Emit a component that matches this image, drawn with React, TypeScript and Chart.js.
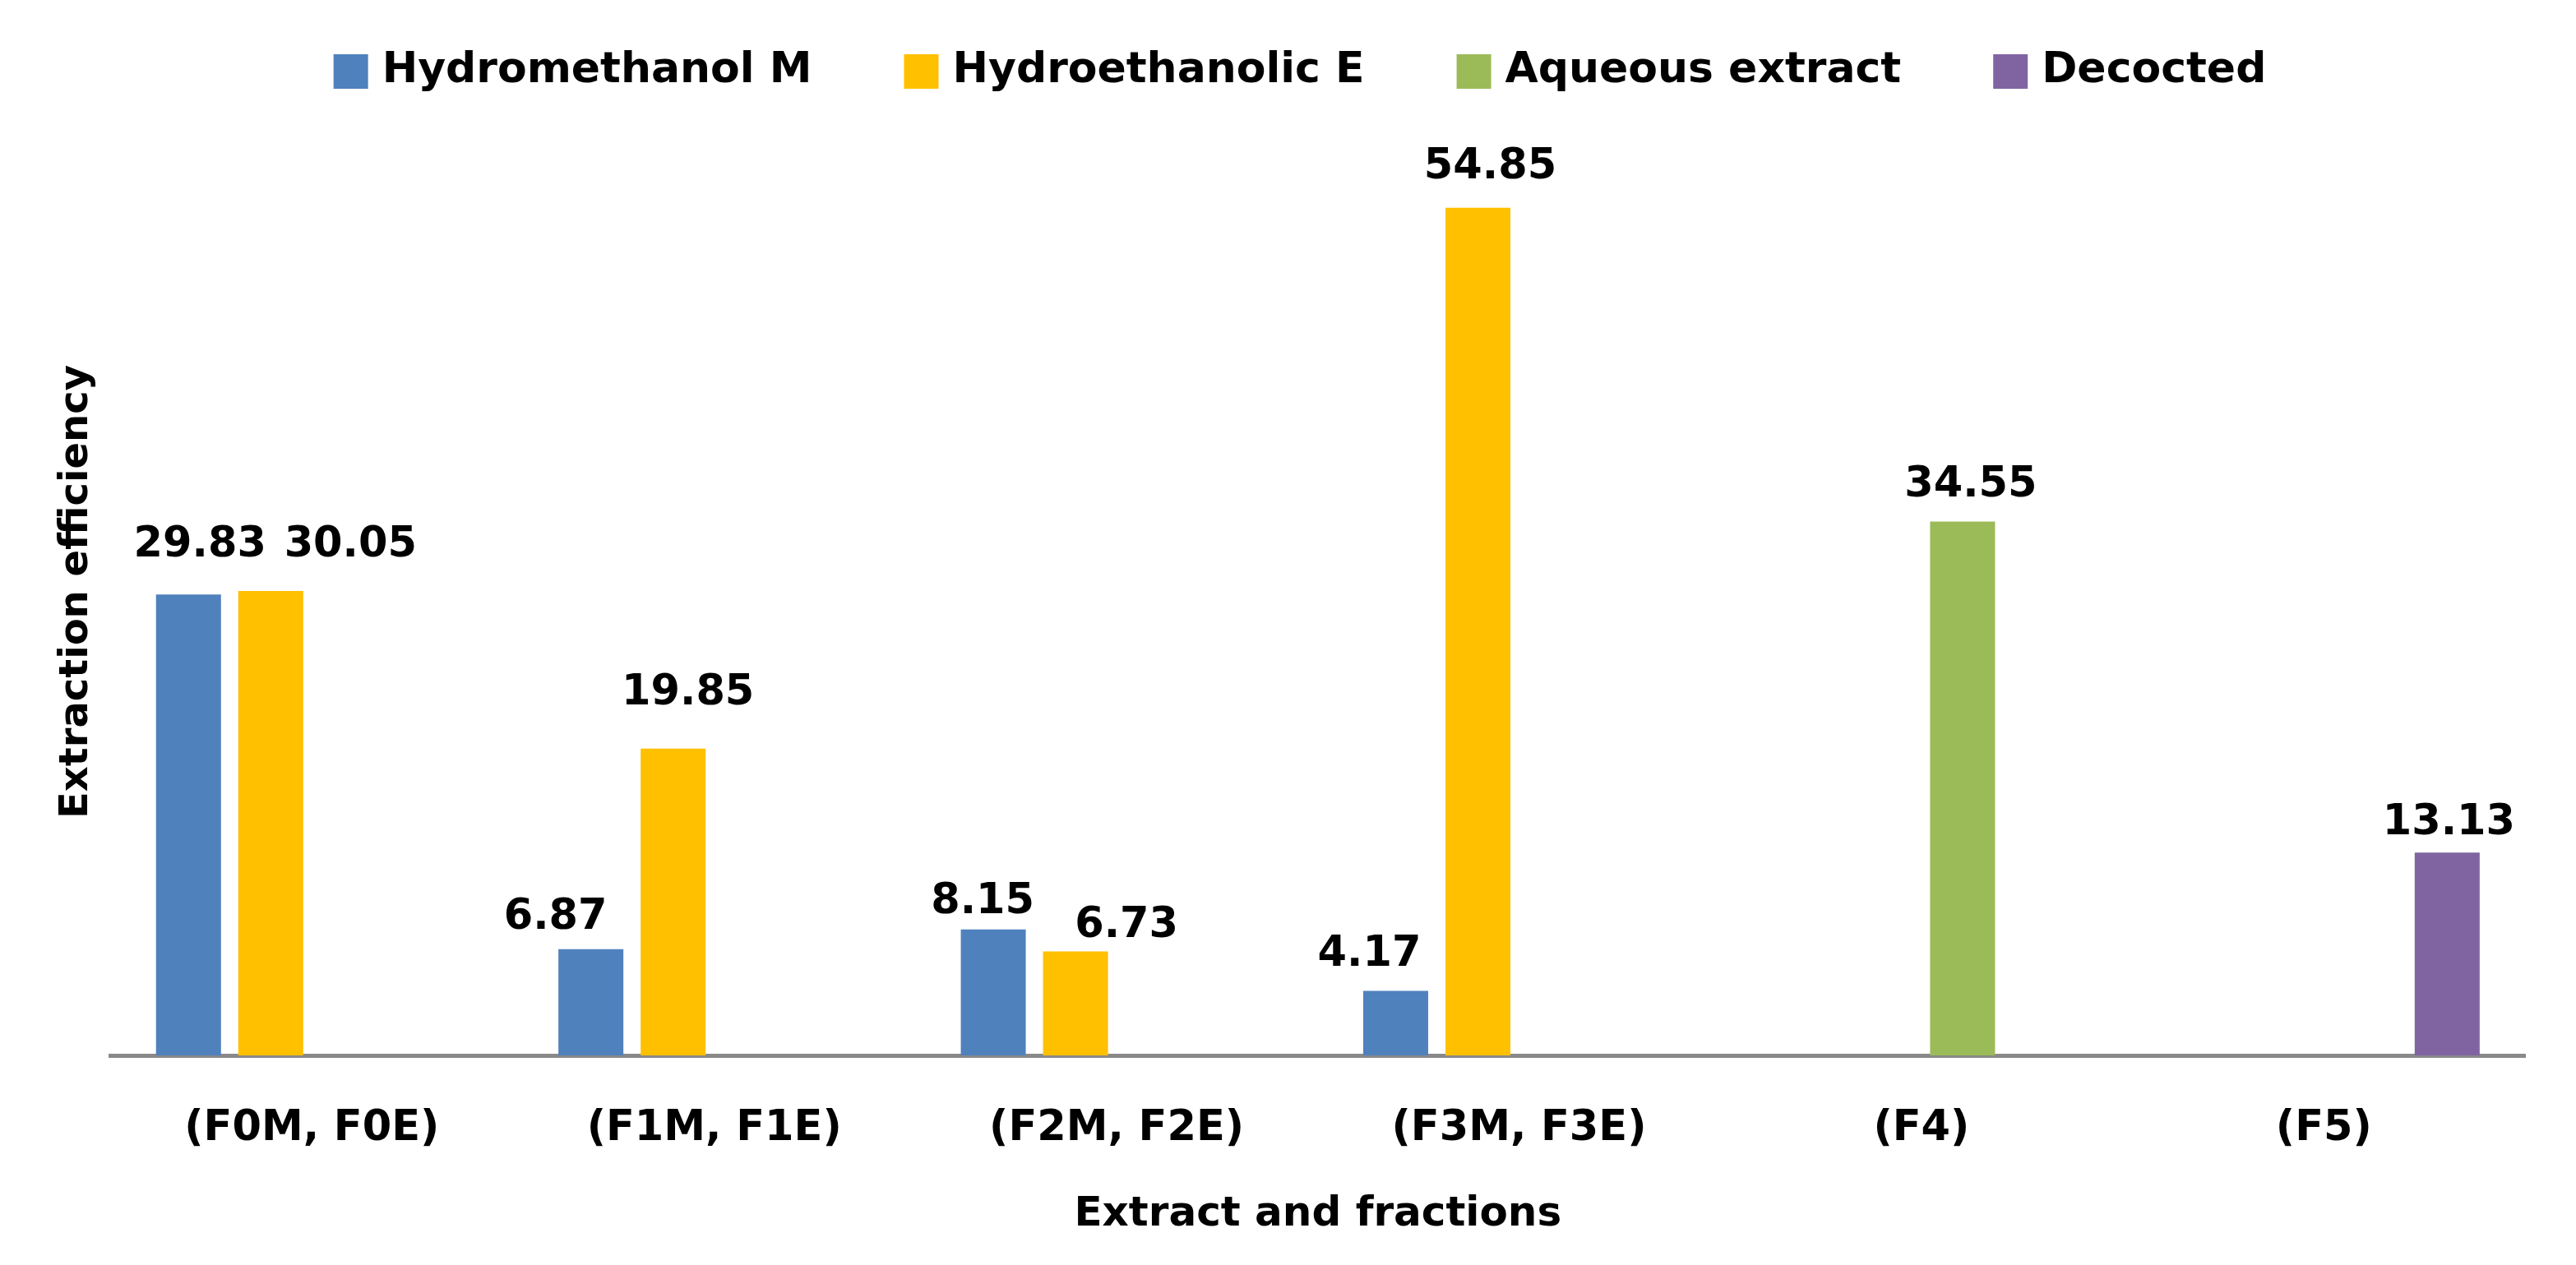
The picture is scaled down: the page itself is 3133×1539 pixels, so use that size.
import { useEffect, useRef } from "react";
import { Chart, registerables } from "chart.js";

Chart.register(...registerables);

// ---- data ----
const categories = ["(F0M, F0E)", "(F1M, F1E)", "(F2M, F2E)", "(F3M, F3E)", "(F4)", "(F5)"];
const seriesNames = ["Hydromethanol M", "Hydroethanolic E", "Aqueous extract", "Decocted"];
const hydromethanolM = [29.83, 6.87, 8.15, 4.17, null, null];
const hydroethanolicE = [30.05, 19.85, 6.73, 54.85, null, null];
const aqueousExtract = [null, null, null, null, 34.55, null];
const decocted = [null, null, null, null, null, 13.13];
const yMin = 0;
const yMax = 60;
const xTitle = "Extract and fractions";
const yTitle = "Extraction efficiency";

// ---- styles ----
const COLORS = ["#4F81BD", "#FFC000", "#9BBB59", "#8064A2"];
const FONT = "'DejaVu Sans', sans-serif";
// per label nudge: [dx, gap between text baseline and bar top]
const LABEL_NUDGE: number[][][] = [
  [[14, 46], [-43, 25], [-13, 20], [-32, 31], [0, 30], [0, 30]],
  [[97, 42], [18, 54], [62, 17], [15, 36], [0, 30], [0, 30]],
  [[0, 30], [0, 30], [0, 30], [0, 30], [10, 30], [0, 30]],
  [[0, 30], [0, 30], [0, 30], [0, 30], [0, 30], [2, 22]],
];

const valueLabels = {
  id: "valueLabels",
  afterDatasetsDraw(chart: any) {
    const ctx = chart.ctx;
    ctx.save();
    ctx.font = `bold 51px ${FONT}`;
    ctx.fillStyle = "#000";
    ctx.textAlign = "center";
    ctx.textBaseline = "alphabetic";
    chart.data.datasets.forEach((ds: any, di: number) => {
      const meta = chart.getDatasetMeta(di);
      meta.data.forEach((el: any, i: number) => {
        const v = ds.data[i];
        if (v === null || v === undefined) return;
        const [dx, gap] = LABEL_NUDGE[di][i];
        ctx.fillText(v.toFixed(2), el.x + dx, el.y - gap);
      });
    });
    ctx.restore();
  },
};

const customLegend = {
  id: "customLegend",
  afterDraw(chart: any) {
    const ctx = chart.ctx;
    ctx.save();
    ctx.font = `bold 52px ${FONT}`;
    ctx.textBaseline = "alphabetic";
    ctx.textAlign = "left";
    const box = 42;
    const gapText = 17;
    const gapItem = 112;
    const items = chart.data.datasets.map((d: any) => ({
      label: d.label,
      color: d.backgroundColor,
      w: ctx.measureText(d.label).width,
    }));
    const total =
      items.reduce((s: number, it: any) => s + box + gapText + it.w, 0) + gapItem * (items.length - 1);
    let x = 1581 - total / 2;
    items.forEach((it: any) => {
      ctx.fillStyle = it.color;
      ctx.fillRect(x, 66, box, box);
      ctx.fillStyle = "#000";
      ctx.fillText(it.label, x + box + gapText, 100);
      x += box + gapText + it.w + gapItem;
    });
    ctx.restore();
  },
};

export default function App() {
  const ref = useRef<HTMLCanvasElement | null>(null);

  useEffect(() => {
    if (!ref.current) return;
    const seriesData = [hydromethanolM, hydroethanolicE, aqueousExtract, decocted];
    const chart = new Chart(ref.current, {
      type: "bar",
      data: {
        labels: categories,
        datasets: seriesData.map((d, i) => ({
          label: seriesNames[i],
          data: d as any,
          backgroundColor: COLORS[i],
          borderWidth: 0,
          categoryPercentage: 0.8175,
          barPercentage: 0.79,
        })),
      },
      options: {
        responsive: false,
        animation: false,
        devicePixelRatio: 1,
        layout: { padding: { top: 156, right: 62, bottom: 0, left: 0 } },
        plugins: {
          legend: { display: false },
          tooltip: { enabled: false },
        },
        scales: {
          x: {
            afterFit: (scale: any) => {
              scale.height = 255;
            },
            grid: { display: false, drawTicks: false },
            border: { display: true, color: "#898989", width: 5 },
            ticks: {
              color: "#000",
              padding: 59,
              font: { family: FONT, size: 51, weight: "bold" },
              maxRotation: 0,
            },
            title: {
              display: true,
              text: xTitle,
              color: "#000",
              font: { family: FONT, size: 50, weight: "bold" },
              padding: { top: 10, bottom: 31 },
            },
          },
          y: {
            min: yMin,
            max: yMax,
            grid: { display: false, drawTicks: false },
            border: { display: false },
            ticks: { display: false },
            title: {
              display: true,
              text: yTitle,
              color: "#000",
              font: { family: FONT, size: 48, weight: "bold" },
              padding: { top: 65, bottom: 12 },
            },
          },
        },
      },
      plugins: [valueLabels, customLegend],
    });
    return () => chart.destroy();
  }, []);

  return (
    <div style={{ position: "fixed", left: 0, top: 0, width: 3133, height: 1539, background: "#fff" }}>
      <canvas ref={ref} width={3133} height={1539} style={{ width: 3133, height: 1539 }} />
    </div>
  );
}
